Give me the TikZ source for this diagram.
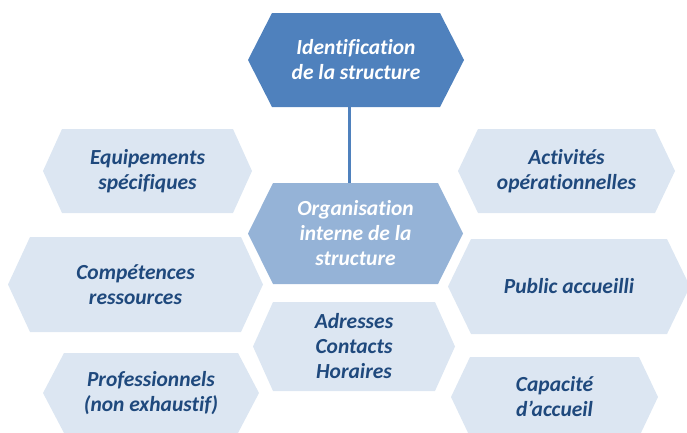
\documentclass[tikz,border=0pt]{standalone}
\usepackage{fontspec}
\setmainfont[Ligatures=NoCommon]{Carlito}

\definecolor{bleufonce}{HTML}{4F81BD}
\definecolor{bleumoyen}{HTML}{95B3D7}
\definecolor{bleuclair}{HTML}{DCE6F2}
\definecolor{bleutexte}{HTML}{1F497D}

\tikzset{
	etiquette/.style={inner sep=0pt, align=center,
		font=\fontsize{21.5}{25}\selectfont\bfseries\itshape},
	lien/.style={draw=bleufonce, line width=3pt}
}

\begin{document}
\begin{tikzpicture}[x=1pt, y=-1pt]
	\useasboundingbox (0,0) rectangle (687,432);

% hexagones
	\foreach \nm/\fc/\tc/\l/\r/\t/\b/\d/\txt in {
		ident/bleufonce/white/248/464/13/107/24/{Identification\\de la structure},
		orga/bleumoyen/white/248/463/183/284/25/{Organisation\\interne de la\\structure},
		equip/bleuclair/bleutexte/43/252/129/213/19/{Equipements\\spécifiques},
		activ/bleuclair/bleutexte/458/675/129/213/20/{Activités\\opérationnelles},
		compet/bleuclair/bleutexte/8/263/237/332/22/{Compétences\\ressources},
		public/bleuclair/bleutexte/448/690/239/334/23/{Public accueilli},
		adres/bleuclair/bleutexte/253/455/302/391/20/{Adresses\\Contacts\\Horaires},
		profes/bleuclair/bleutexte/43/259/353/433/21/{Professionnels\\(non exhaustif)},
		capac/bleuclair/bleutexte/451/658/357/437/19/{Capacité\\d’accueil}}
	{
		\fill[fill=\fc] (\l,{(\t+\b)/2}) -- (\l+\d,\t) -- (\r-\d,\t)
			-- (\r,{(\t+\b)/2}) -- (\r-\d,\b) -- (\l+\d,\b) -- cycle;
		\node[etiquette, text=\tc, minimum width={(\r-\l-2*\d)*1pt},
			minimum height={(\b-\t)*1pt}] (\nm) at ({(\l+\r)/2},{(\t+\b)/2}) {\txt};
	}

% liaison
	\draw[lien] ([xshift=-7pt, yshift=20pt]ident.south) -- ([xshift=-6.5pt]orga.north);
\end{tikzpicture}
\end{document}
